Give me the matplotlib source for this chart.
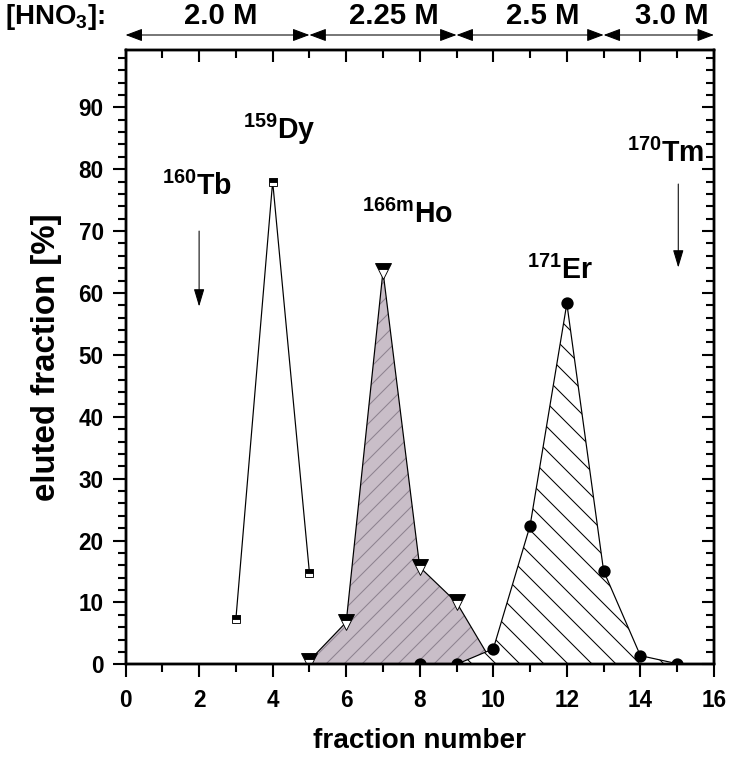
import matplotlib
matplotlib.use('Agg')
import matplotlib.pyplot as plt
import matplotlib.transforms as transforms
from matplotlib.ticker import MultipleLocator

plt.rcParams['font.family'] = ['Liberation Sans', 'DejaVu Sans']
plt.rcParams['font.weight'] = 'bold'
plt.rcParams['axes.labelweight'] = 'bold'
plt.rcParams['mathtext.fontset'] = 'custom'
plt.rcParams['mathtext.rm'] = 'Liberation Sans:bold'
plt.rcParams['mathtext.default'] = 'rm'
plt.rcParams['hatch.linewidth'] = 0.35

# data
dy_x = [3, 4, 5]
dy_y = [7.3, 78.0, 14.8]
ho_x = [5, 6, 7, 8, 9, 10]
ho_y = [0.6, 6.8, 63.5, 15.7, 10.0, 0.0]
er_x = [8, 9, 10, 11, 12, 13, 14, 15]
er_y = [0.0, 0.0, 2.5, 22.4, 58.3, 15.1, 1.4, 0.1]

# [HNO3] zones: boundaries and labels
zone_edges = [0, 5, 9, 13, 16]
zone_labels = ['2.0 M', '2.25 M', '2.5 M', '3.0 M']
zone_label_x = [2.6, 7.3, 11.35, 14.85]

# isotope labels (mass, symbol, x, y)
iso_mass = ['160', '159', '166m', '171', '170']
iso_sym = ['Tb', 'Dy', 'Ho', 'Er', 'Tm']
iso_x = [1.0, 3.2, 6.43, 10.92, 13.64]
iso_y = [75.8, 84.8, 71.3, 62.3, 81.2]

# arrows for not-eluted nuclides
arrow_x = [2, 15.03]
arrow_top = [70, 77.6]
arrow_bot = [57.8, 64.1]

DPI = 216
fig = plt.figure(figsize=(730 / DPI, 758 / DPI), dpi=DPI)
ax = fig.add_axes([0.172, 0.1236, 0.978 - 0.172, 0.9344 - 0.1236])

# Ho peak: grey hatched area
ax.fill_between(ho_x, ho_y, 0, facecolor='#c9bec8', edgecolor='#8e8390',
                hatch='////', linewidth=0, zorder=1)
ax.plot(ho_x, ho_y, color='black', lw=0.4, zorder=2)
ax.plot(ho_x, ho_y, ls='none', marker='v', ms=5.2, fillstyle='top',
        markerfacecolor='black', markerfacecoloralt='white',
        markeredgecolor='black', markeredgewidth=0.3, zorder=3)

# Er peak: white hatched area
ax.fill_between(er_x, er_y, 0, facecolor='white', edgecolor='black',
                hatch='\\\\\\', linewidth=0, zorder=4)
ax.plot(er_x, er_y, color='black', lw=0.4, marker='o', ms=3.1,
        markerfacecolor='black', markeredgecolor='black', zorder=5)

# Dy peak
ax.plot(dy_x, dy_y, color='black', lw=0.4, zorder=5)
ax.plot(dy_x, dy_y, ls='none', marker='s', ms=2.9, fillstyle='top',
        markerfacecolor='black', markerfacecoloralt='white',
        markeredgecolor='black', markeredgewidth=0.3, zorder=6)

ax.set_xlim(0, 16)
ax.set_ylim(0, 99.3)
ax.xaxis.set_major_locator(MultipleLocator(2))
ax.xaxis.set_minor_locator(MultipleLocator(1))
ax.yaxis.set_major_locator(MultipleLocator(10))
ax.yaxis.set_minor_locator(MultipleLocator(2))
ax.tick_params(which='both', direction='out', width=0.7, labelsize=7.5)
ax.tick_params(axis='x', pad=3.8)
ax.tick_params(axis='y', pad=3.0)
ax.tick_params(which='major', length=4.3)
ax.tick_params(which='minor', length=2.6)
for s in ax.spines.values():
    s.set_linewidth(0.7)

# inward ticks on top and right
axt = ax.twiny()
axt.set_xlim(ax.get_xlim())
axt.xaxis.set_major_locator(MultipleLocator(2))
axt.xaxis.set_minor_locator(MultipleLocator(1))
axt.tick_params(which='both', direction='in', width=0.7, labeltop=False)
axt.tick_params(which='major', length=4.0)
axt.tick_params(which='minor', length=2.6)
axr = ax.twinx()
axr.set_ylim(ax.get_ylim())
axr.yaxis.set_major_locator(MultipleLocator(10))
axr.yaxis.set_minor_locator(MultipleLocator(2))
axr.tick_params(which='both', direction='in', width=0.7, labelright=False)
axr.tick_params(which='major', length=4.0)
axr.tick_params(which='minor', length=2.6)

ax.set_xlabel('fraction number', fontsize=9.3, labelpad=5.5)
ax.set_ylabel('eluted fraction [%]', fontsize=11, labelpad=5.5)

# isotope labels and arrows
for m, s, x, y in zip(iso_mass, iso_sym, iso_x, iso_y):
    ax.text(x, y, '$^{' + m + '}$' + s, fontsize=9.5, ha='left', va='baseline', zorder=7)
for x, y0, y1 in zip(arrow_x, arrow_top, arrow_bot):
    ax.annotate('', xy=(x, y1), xytext=(x, y0),
                arrowprops=dict(arrowstyle='-|>,head_length=0.5,head_width=0.15',
                                lw=0.35, color='black', shrinkA=0, shrinkB=0,
                                mutation_scale=10))

# HNO3 concentration zones above the plot
trans = transforms.blended_transform_factory(ax.transData, fig.transFigure)
for x0, x1 in zip(zone_edges[:-1], zone_edges[1:]):
    ax.annotate('', xy=(x1, 1 - 35 / 758), xytext=(x0, 1 - 35 / 758),
                xycoords=trans, textcoords=trans, annotation_clip=False,
                arrowprops=dict(arrowstyle='<|-|>,head_length=0.4,head_width=0.15',
                                lw=0.35, color='black', shrinkA=0, shrinkB=0,
                                mutation_scale=12))
for lab, x in zip(zone_labels, zone_label_x):
    ax.text(x, 1 - 16 / 758, lab, transform=trans, fontsize=9.8,
            ha='center', va='center')
fig.text(5 / 730, 1 - 17 / 758, '[HNO$_3$]:', fontsize=9.2, ha='left', va='center')

fig.savefig('out.png', dpi=DPI)
